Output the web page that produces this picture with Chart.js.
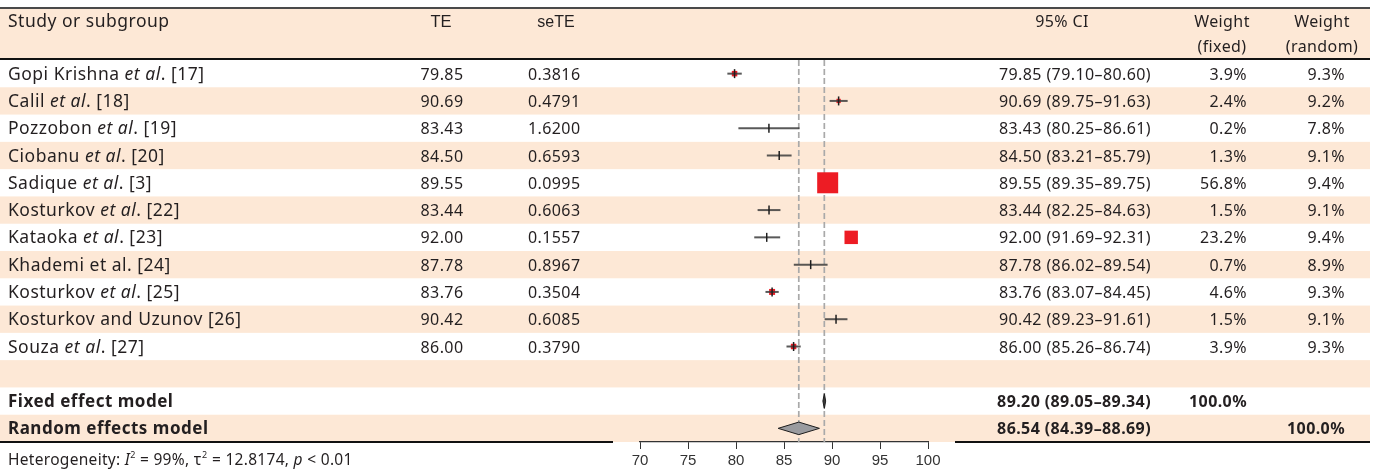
<!DOCTYPE html>
<html>
<head>
<meta charset="utf-8">
<script src="https://cdn.jsdelivr.net/npm/chart.js@4/dist/chart.umd.min.js"></script>
<style>
  html, body { margin: 0; padding: 0; background: #fff; }
  canvas { display: block; }
</style>
</head>
<body>
<canvas id="forest" width="1378" height="472"></canvas>
<script>
// Study rows (text between asterisks is set in italics)
const studies = [
  'Gopi Krishna *et al*. [17]',
  'Calil *et al*. [18]',
  'Pozzobon *et al*. [19]',
  'Ciobanu *et al*. [20]',
  'Sadique *et al*. [3]',
  'Kosturkov *et al*. [22]',
  'Kataoka *et al*. [23]',
  'Khademi et al. [24]',
  'Kosturkov *et al*. [25]',
  'Kosturkov and Uzunov [26]',
  'Souza *et al*. [27]'
];
const te = [79.85, 90.69, 83.43, 84.50, 89.55, 83.44, 92.00, 87.78, 83.76, 90.42, 86.00];
const seTE = ['0.3816', '0.4791', '1.6200', '0.6593', '0.0995', '0.6063', '0.1557', '0.8967', '0.3504', '0.6085', '0.3790'];
const ciLow = [79.10, 89.75, 80.25, 83.21, 89.35, 82.25, 91.69, 86.02, 83.07, 89.23, 85.26];
const ciHigh = [80.60, 91.63, 86.61, 85.79, 89.75, 84.63, 92.31, 89.54, 84.45, 91.61, 86.74];
const weightFixed = [3.9, 2.4, 0.2, 1.3, 56.8, 1.5, 23.2, 0.7, 4.6, 1.5, 3.9];
const weightRandom = [9.3, 9.2, 7.8, 9.1, 9.4, 9.1, 9.4, 8.9, 9.3, 9.1, 9.3];

// Additional interval drawn on the Kataoka row
const extraRows = [6];
const extraEst = [83.2];
const extraLow = [81.9];
const extraHigh = [84.6];

// Pooled estimates
const modelNames = ['Fixed effect model', 'Random effects model'];
const modelEst = [89.20, 86.54];
const modelLow = [89.05, 84.39];
const modelHigh = [89.34, 88.69];
const modelWeightFixed = ['100.0%', ''];
const modelWeightRandom = ['', '100.0%'];

const xTicks = [70, 75, 80, 85, 90, 95, 100];
const heterogeneity = { i2: '99%', tau2: '12.8174', p: '0.01' };

// ---- layout / style ----
const ROWS = studies.length + 3;          // studies, blank row, two models
const MODEL_ROW0 = studies.length + 1;
const TABLE_RIGHT = 1370;
const PEACH = '#fde8d6';
const INK = '#231f20';
const BODY_FONT = '"Noto Sans", sans-serif';
const ARIAL = '"Liberation Sans", Arial, sans-serif';
const MAX_BOX = 21;
const maxWeight = Math.max(...weightFixed);
const boxSide = i => MAX_BOX * Math.sqrt(weightFixed[i] / maxWeight);
const unitPx = chart => chart.scales.x.width / (xTicks[xTicks.length - 1] - xTicks[0]);
// whisker and tick are only visible when the interval extends past the box
const showInterval = (chart, i) => (ciHigh[i] - ciLow[i]) * unitPx(chart) > boxSide(i);

const datasets = [];

// dashed lines at the pooled estimates
[modelEst[0], modelEst[1]].forEach(v => datasets.push({
  type: 'line', order: 6,
  data: [{ x: v, y: -0.5 }, { x: v, y: ROWS - 0.5 }],
  borderColor: '#a9a9a9', borderWidth: 1.7, borderDash: [6, 3],
  pointRadius: 0
}));

// pooled diamonds
const diamondHalf = [0.27, 0.23];
const diamondFill = ['#3a3a3a', '#9a9b9f'];
modelEst.forEach((v, k) => {
  const r = MODEL_ROW0 + k;
  datasets.push({
    type: 'line', order: 5,
    data: [
      { x: modelLow[k], y: r }, { x: v, y: r - diamondHalf[k] },
      { x: modelHigh[k], y: r }, { x: v, y: r + diamondHalf[k] },
      { x: modelLow[k], y: r }
    ],
    fill: 'shape', backgroundColor: diamondFill[k],
    borderColor: '#1e1e1e', borderWidth: 1,
    pointRadius: 0, tension: 0
  });
});

// weighted study boxes
datasets.push({
  type: 'scatter', order: 4,
  data: te.map((v, i) => ({ x: v, y: i })),
  pointStyle: 'rect',
  pointRadius: ctx => boxSide(ctx.dataIndex) >= 4 ? boxSide(ctx.dataIndex) / Math.SQRT2 : 0,
  backgroundColor: '#ed1c24', borderWidth: 0
});

// confidence interval whiskers
te.forEach((v, i) => datasets.push({
  type: 'line', order: 3,
  data: [{ x: ciLow[i], y: i }, { x: ciHigh[i], y: i }],
  borderColor: ctx => showInterval(ctx.chart, i) ? 'rgba(60,60,60,0.85)' : 'rgba(0,0,0,0)',
  borderWidth: 2, pointRadius: 0
}));
extraRows.forEach((r, k) => datasets.push({
  type: 'line', order: 3,
  data: [{ x: extraLow[k], y: r }, { x: extraHigh[k], y: r }],
  borderColor: 'rgba(60,60,60,0.85)', borderWidth: 2, pointRadius: 0
}));

// vertical tick at each point estimate
datasets.push({
  type: 'scatter', order: 1,
  data: te.map((v, i) => ({ x: v, y: i })),
  pointStyle: 'line', rotation: 90,
  pointRadius: ctx => showInterval(ctx.chart, ctx.dataIndex) ? 4.5 : 0,
  borderColor: '#1e1e1e', borderWidth: 1.5
});
datasets.push({
  type: 'scatter', order: 1,
  data: extraRows.map((r, k) => ({ x: extraEst[k], y: r })),
  pointStyle: 'line', rotation: 90, pointRadius: 4.5,
  borderColor: '#1e1e1e', borderWidth: 1.5
});

// ---- text helpers ----
function setSpacing(ctx, px) {
  if ('letterSpacing' in ctx) ctx.letterSpacing = px + 'px';
}
function richSegments(str, size) {
  const parts = str.split('*');
  return parts.map((t, idx) => ({
    text: t,
    font: `${idx % 2 ? 'italic ' : ''}${size}px ${BODY_FONT}`
  })).filter(s => s.text.length);
}
function drawRich(ctx, segs, x, y, align) {
  let total = 0;
  segs.forEach(s => { ctx.font = s.font; total += ctx.measureText(s.text).width; });
  let cx = align === 'right' ? x - total : align === 'center' ? x - total / 2 : x;
  ctx.textAlign = 'left';
  segs.forEach(s => {
    ctx.font = s.font;
    ctx.fillText(s.text, cx + (s.dx || 0), y + (s.dy || 0));
    cx += ctx.measureText(s.text).width + (s.dx || 0);
  });
}
function text(ctx, str, x, y, align, font) {
  ctx.font = font;
  ctx.textAlign = align;
  ctx.fillText(str, x, y);
}
function hline(ctx, x0, x1, y, w, color) {
  ctx.fillStyle = color;
  ctx.fillRect(x0, y, x1 - x0, w);
}

const COL = { te: 442, seTE: 528, ci: 1151, wf: 1247, wr: 1345 };

const tablePlugin = {
  id: 'forestTable',
  beforeDraw(chart) {
    const { ctx, scales: { y } } = chart;
    ctx.save();
    ctx.fillStyle = '#fff';
    ctx.fillRect(0, 0, chart.width, chart.height);
    const h = Math.abs(y.getPixelForValue(1) - y.getPixelForValue(0));
    ctx.fillStyle = PEACH;
    for (let r = 1; r < ROWS; r += 2) {
      const c = y.getPixelForValue(r);
      ctx.fillRect(0, c - h / 2, TABLE_RIGHT, h);
    }
    // header band
    ctx.fillRect(0, 9, TABLE_RIGHT, 49);
    ctx.restore();
  },
  afterDraw(chart) {
    const { ctx, chartArea, scales: { y } } = chart;
    ctx.save();
    // header and footer rules
    hline(ctx, 0, TABLE_RIGHT, 7, 2, '#4a4a4a');
    hline(ctx, 0, TABLE_RIGHT, 58, 2, '#111');
    const bottom = chartArea.bottom - 1;
    hline(ctx, 0, 613, bottom, 2, '#111');
    hline(ctx, 955, TABLE_RIGHT, bottom, 2, '#111');

    ctx.fillStyle = INK;
    ctx.textBaseline = 'alphabetic';
    const nameSize = 17.5;
    const body = `16px ${BODY_FONT}`;
    const bold = `bold 16px ${BODY_FONT}`;
    const boldName = `bold 17px ${BODY_FONT}`;

    // header
    setSpacing(ctx, 0.5);
    text(ctx, 'Study or subgroup', 8, 27, 'left', `${nameSize}px ${BODY_FONT}`);
    setSpacing(ctx, 0.4);
    text(ctx, '95% CI', 1062, 27, 'center', body);
    text(ctx, 'Weight', 1222, 27, 'center', body);
    text(ctx, '(fixed)', 1222, 52, 'center', body);
    text(ctx, 'Weight', 1322, 27, 'center', body);
    text(ctx, '(random)', 1322, 52, 'center', body);
    setSpacing(ctx, 0);
    text(ctx, 'TE', 441, 27, 'center', `16.5px ${ARIAL}`);
    text(ctx, 'seTE', 556, 27, 'center', `16px ${ARIAL}`);

    // study rows
    studies.forEach((name, i) => {
      const by = y.getPixelForValue(i) + 6;
      setSpacing(ctx, 0.5);
      drawRich(ctx, richSegments(name, nameSize), 8, by, 'left');
      setSpacing(ctx, 0.4);
      text(ctx, te[i].toFixed(2), COL.te, by, 'center', body);
      text(ctx, seTE[i], COL.seTE, by, 'left', body);
      text(ctx, `${te[i].toFixed(2)} (${ciLow[i].toFixed(2)}\u2013${ciHigh[i].toFixed(2)})`, COL.ci, by, 'right', body);
      text(ctx, `${weightFixed[i].toFixed(1)}%`, COL.wf, by, 'right', body);
      text(ctx, `${weightRandom[i].toFixed(1)}%`, COL.wr, by, 'right', body);
    });

    // pooled rows
    modelNames.forEach((name, k) => {
      const by = y.getPixelForValue(MODEL_ROW0 + k) + 6;
      setSpacing(ctx, 0.5);
      text(ctx, name, 8, by, 'left', boldName);
      setSpacing(ctx, 0.4);
      text(ctx, `${modelEst[k].toFixed(2)} (${modelLow[k].toFixed(2)}\u2013${modelHigh[k].toFixed(2)})`, COL.ci, by, 'right', bold);
      if (modelWeightFixed[k]) text(ctx, modelWeightFixed[k], COL.wf, by, 'right', bold);
      if (modelWeightRandom[k]) text(ctx, modelWeightRandom[k], COL.wr, by, 'right', bold);
    });

    // heterogeneity line
    setSpacing(ctx, 0.3);
    const f = `15.5px ${BODY_FONT}`, fi = `italic 15.5px ${BODY_FONT}`, sup = `9px ${BODY_FONT}`;
    drawRich(ctx, [
      { text: 'Heterogeneity: ', font: f },
      { text: 'I', font: fi },
      { text: '2', font: sup, dy: -7 },
      { text: ` = ${heterogeneity.i2}, \u03c4`, font: f },
      { text: '2', font: sup, dy: -7, dx: 0.5 },
      { text: ` = ${heterogeneity.tau2}, `, font: f },
      { text: 'p', font: fi },
      { text: ` < ${heterogeneity.p}`, font: f }
    ], 8, 465, 'left');
    ctx.restore();
  }
};

new Chart(document.getElementById('forest'), {
  type: 'scatter',
  data: { datasets },
  options: {
    responsive: false,
    animation: false,
    events: [],
    layout: { padding: { left: 640, right: 1378 - 928, top: 60, bottom: 0 } },
    plugins: { legend: { display: false }, tooltip: { enabled: false } },
    scales: {
      x: {
        type: 'linear',
        min: xTicks[0], max: xTicks[xTicks.length - 1],
        afterFit(scale) { scale.height = 30; },
        afterBuildTicks(scale) { scale.ticks = xTicks.map(v => ({ value: v })); },
        grid: { drawOnChartArea: false, drawTicks: true, tickLength: 7, color: '#333', lineWidth: 1 },
        border: { display: true, color: '#333', width: 1.2 },
        ticks: { color: '#333', padding: 3, font: { family: 'Liberation Sans', size: 15 } }
      },
      y: {
        type: 'linear', display: false, reverse: true,
        min: -0.5, max: ROWS - 0.5
      }
    }
  },
  plugins: [tablePlugin]
});
</script>
</body>
</html>
